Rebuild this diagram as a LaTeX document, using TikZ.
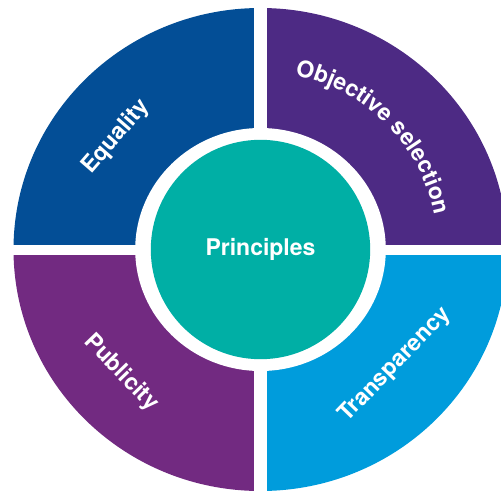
\documentclass[tikz,border=0pt]{standalone}
\usepackage{fontspec}
\setmainfont{TeX Gyre Heros}
\usepackage{tikz}
\usetikzlibrary{decorations}
\usetikzlibrary{decorations.text}
\definecolor{equalcolor}{HTML}{034E96}
\definecolor{objcolor}{HTML}{4D2A84}
\definecolor{pubcolor}{HTML}{722A81}
\definecolor{transcolor}{HTML}{009CDC}
\definecolor{centercolor}{HTML}{00AFA5}

\begin{document}
\begin{tikzpicture}[x=1pt,y=1pt,
  label/.style={text=white,font=\fontsize{23}{27}\selectfont\bfseries,inner sep=0pt}]
\useasboundingbox (-260.5,-241.5) rectangle (240.5,249.5);
%% four quarters
\fill[equalcolor] (0,0) -- (-247,0) arc[start angle=180,end angle=90,x radius=247,y radius=241.5] -- cycle;
\fill[objcolor] (0,0) -- (0,241.5) arc[start angle=90,end angle=0,x radius=247,y radius=241.5] -- cycle;
\fill[pubcolor] (0,0) -- (0,-241.5) arc[start angle=270,end angle=180,x radius=247,y radius=241.5] -- cycle;
\fill[transcolor] (0,0) -- (247,0) arc[start angle=0,end angle=-90,x radius=247,y radius=241.5] -- cycle;
%% gaps
\fill[white] (-6.2,-245) rectangle (6.2,250);
\fill[white] (-250,-5) rectangle (245,5);
\fill[white] (0,0) ellipse [x radius=125.3,y radius=121.5];
\fill[centercolor] (0,0) circle (109.7);
\node[label] (principles) at (0,0) {Principles};

\node[label,rotate=49] (equality) at (-144.5,112.5) {Equality};
\node[label,rotate=-46] (publicity) at (-139.5,-123.5) {Publicity};
\node[label,rotate=46] (transparency) at (134.5,-115.5) {Transparency};
\path[decorate,decoration={text along path,text align=center,
    text={|\fontsize{23}{27}\selectfont\bfseries\color{white}|Objective selection}}]
  (0,177.5) arc[start angle=90,end angle=0,radius=177.5];
\end{tikzpicture}
\end{document}
